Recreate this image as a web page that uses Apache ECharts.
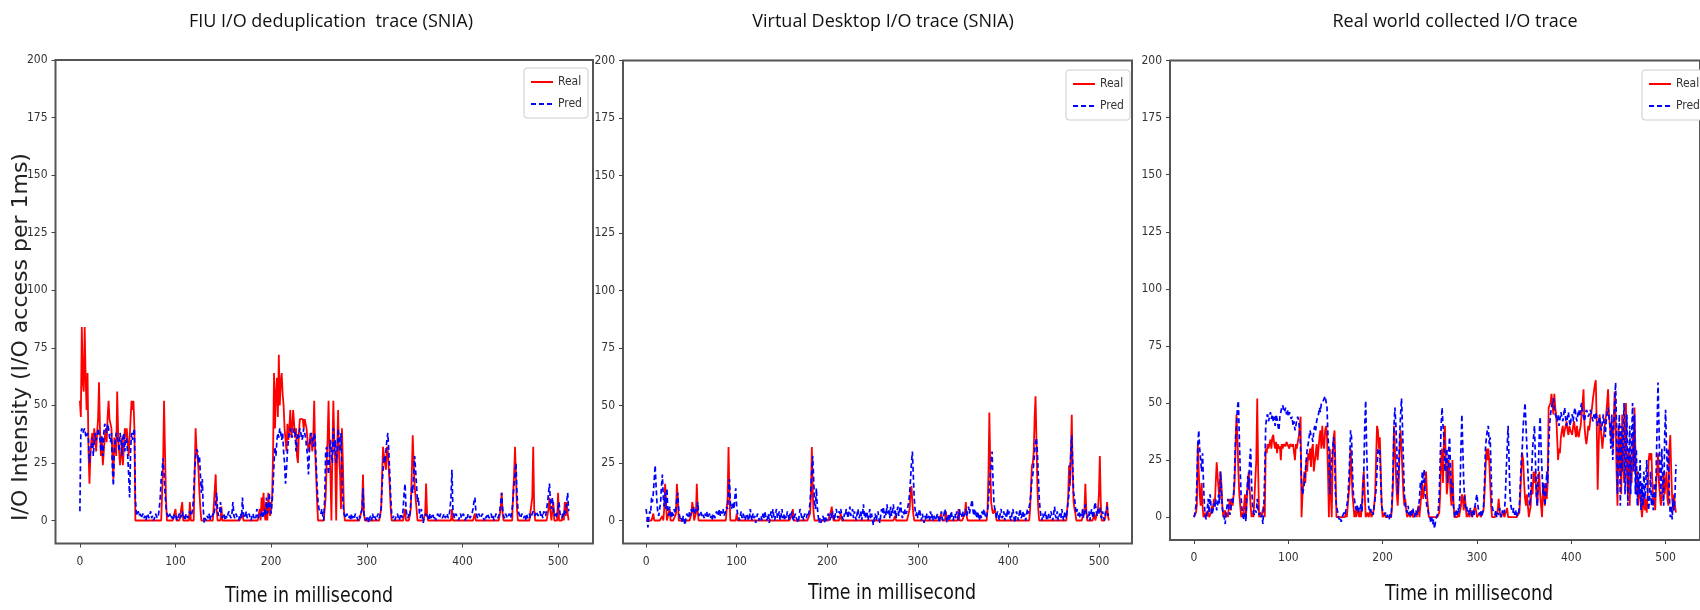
<!DOCTYPE html>
<html>
<head>
<meta charset="utf-8">
<script src="https://cdn.jsdelivr.net/npm/echarts@6/dist/echarts.min.js"></script>
<style>html,body{margin:0;padding:0;background:#fff}#c{width:1700px;height:610px}</style>
</head>
<body>
<div id="c"></div>
<script>
// ---- Data (one value per millisecond, 0..511) ----
const panelTitles = ['FIU I/O deduplication  trace (SNIA)', 'Virtual Desktop I/O trace (SNIA)', 'Real world collected I/O trace'];
const xTitle = 'Time in millisecond';
const yTitle = 'I/O Intensity (I/O access per 1ms)';
const xTicks = [0, 100, 200, 300, 400, 500];
const yTicks = [0, 25, 50, 75, 100, 125, 150, 175, 200];
const seriesNames = ['Real', 'Pred'];

const fiuReal = [
52,45,84,60,56,84,62,48,64,30,16,28,35,38,32,40,36,30,38,44,60,40,28,35,24,30,36,40,34,45,52,44,
44,40,28,18,36,32,28,56,38,30,24,28,36,24,32,40,36,40,34,28,36,44,52,48,52,40,0,0,0,0,0,0,
0,0,0,0,0,0,0,0,0,0,0,0,0,0,0,0,0,0,0,0,0,0,12,25,52,30,10,0,0,0,0,0,
0,0,0,0,5,0,0,0,0,0,0,8,0,0,0,0,0,0,0,8,0,0,0,0,20,40,30,28,22,12,5,0,
0,0,0,0,0,0,0,0,0,0,0,0,0,0,20,5,0,0,0,0,6,0,0,0,0,0,0,0,0,0,0,0,
0,0,0,0,0,0,0,0,0,0,3,0,0,0,0,0,0,0,0,0,0,0,0,0,0,0,0,0,5,0,10,4,
12,3,0,8,0,12,4,2,6,10,30,64,40,55,62,45,72,50,60,64,55,50,40,35,30,42,35,40,48,36,40,48,
48,36,40,28,25,38,44,44,44,44,40,44,44,40,35,30,32,38,35,30,36,52,30,20,8,0,0,0,0,0,0,0,
0,10,25,35,52,30,20,0,30,52,35,25,0,30,48,28,20,5,40,25,5,0,0,0,0,0,0,0,0,0,0,0,
0,0,0,0,0,0,0,5,20,3,0,0,0,0,0,0,0,0,0,0,0,0,0,0,0,0,0,5,20,32,28,25,
22,32,30,22,15,5,0,0,0,0,0,0,0,0,0,0,0,0,0,0,5,0,0,0,0,0,5,20,37,25,15,10,
5,0,0,0,0,0,0,0,0,3,16,3,0,0,0,0,0,0,0,0,0,0,0,0,0,0,0,0,0,0,0,0,
0,0,0,0,0,5,0,0,0,0,0,0,0,0,0,0,0,0,0,0,0,0,0,0,0,0,0,0,0,3,0,0,
0,0,0,0,0,0,0,0,0,0,0,0,0,0,0,0,0,0,0,0,0,0,0,0,5,12,3,0,0,0,0,0,
0,0,0,0,0,12,20,32,18,5,0,0,0,0,0,0,0,0,0,0,0,0,0,0,0,10,32,5,0,0,0,0,
0,0,0,0,0,0,0,0,0,0,5,10,4,0,0,8,0,0,0,0,12,0,0,0,0,3,0,8,2,8,3,0];

const fiuPred = [
4,38,40,38,38,40,37,36,38,35,25,30,32,36,28,34,38,35,36,40,38,35,30,37,28,38,42,40,38,42,40,36,
34,38,22,15,30,35,38,36,34,30,38,35,28,36,38,30,36,35,28,20,10,30,38,35,38,40,10,3,2,4,2,3,
1,2,3,1,2,0,2,3,1,2,4,1,2,0,1,3,2,1,2,5,10,18,22,27,20,12,6,3,2,1,3,1,
2,0,1,3,2,1,0,2,3,1,2,4,1,2,0,3,2,1,3,4,2,3,5,12,22,28,31,30,25,28,20,12,
18,5,-1,1,0,2,1,3,0,2,1,3,2,5,8,12,4,2,3,8,2,1,3,2,0,2,1,3,4,2,1,3,
8,2,1,3,2,1,0,2,3,1,10,3,1,2,4,1,2,3,1,0,2,3,1,2,1,5,2,1,3,2,4,1,
3,5,2,10,3,5,12,6,3,8,15,25,32,28,35,38,36,40,38,35,38,30,25,16,22,30,35,38,40,38,36,38,
40,38,30,35,38,36,40,38,35,36,40,38,36,32,28,20,30,36,38,35,32,38,36,25,15,8,5,4,3,5,2,0,
10,30,32,25,20,30,35,28,25,40,30,35,25,30,40,35,30,38,20,8,3,2,1,3,2,1,2,0,3,1,2,1,
3,2,1,0,2,1,3,5,14,3,1,0,2,1,-1,1,2,0,3,1,2,1,0,2,3,1,2,5,15,22,28,25,
30,35,38,30,20,10,3,1,2,0,1,2,3,1,0,2,3,1,5,12,16,5,2,1,3,2,8,15,12,20,28,22,
15,8,10,3,1,5,2,-1,1,2,3,1,2,0,3,1,2,3,1,2,0,1,3,2,1,3,2,1,2,3,1,2,
3,1,2,5,10,22,5,2,1,3,2,1,0,2,3,1,2,3,1,0,2,1,3,2,1,2,3,5,8,10,4,2,
1,3,2,1,2,3,1,0,2,1,3,2,1,2,3,1,2,0,1,3,2,1,2,4,8,12,5,2,1,3,2,1,
2,3,1,2,5,10,16,20,25,12,5,3,2,1,3,2,1,2,0,3,1,2,3,1,2,3,4,3,2,4,3,2,
3,4,2,3,1,4,3,2,5,8,12,16,8,5,10,6,2,3,1,4,5,8,3,2,1,3,2,5,3,8,12,4];

const vdReal = [
0,0,0,0,0,0,0,0,3,0,0,0,0,0,0,0,0,0,2,0,5,16,8,0,0,0,5,0,0,0,0,0,
0,3,16,10,0,0,0,0,0,0,0,0,0,0,0,0,0,0,3,8,5,0,0,3,16,4,0,0,0,0,0,0,
0,0,0,0,0,0,0,0,0,0,0,0,0,0,0,0,0,0,0,0,0,0,0,0,0,0,10,32,12,0,0,0,
0,0,0,0,3,0,0,0,0,0,0,0,0,0,0,0,0,0,0,0,0,0,0,0,0,0,0,0,0,0,0,0,
0,0,0,0,0,0,0,0,0,0,0,0,0,0,0,0,0,0,0,0,0,0,0,0,0,0,0,0,0,0,0,0,
0,2,5,0,0,0,0,0,0,0,0,0,0,0,0,0,0,0,0,0,0,3,10,32,12,3,0,0,0,0,0,0,
0,0,0,0,0,0,0,0,0,0,0,0,4,6,2,0,0,0,0,0,0,0,0,3,0,0,0,0,0,0,0,0,
0,0,0,0,0,0,0,0,0,0,0,0,0,0,0,0,0,0,0,0,0,0,0,0,0,0,0,0,0,0,0,0,
0,0,0,0,0,0,0,0,0,0,0,0,0,0,0,0,0,0,0,2,0,0,0,0,0,0,0,0,0,0,0,0,
0,0,0,5,12,15,8,3,0,0,0,0,0,0,0,0,0,0,0,0,0,0,0,0,0,0,0,0,0,0,0,0,
0,0,0,0,0,0,3,0,0,0,0,4,0,0,0,0,0,0,0,0,0,0,0,0,0,5,0,0,0,0,0,0,
3,8,2,0,0,0,0,0,0,0,0,0,0,0,0,0,0,0,0,0,0,0,0,0,0,5,20,47,25,8,5,3,
4,5,3,0,0,0,0,0,0,0,0,0,0,0,0,0,0,0,0,0,0,0,0,0,0,0,0,0,0,0,0,0,
0,0,0,0,0,0,0,0,5,15,24,25,30,45,54,35,15,5,0,0,0,0,0,0,0,0,0,0,0,0,0,0,
0,0,0,0,0,0,0,0,0,0,0,0,0,0,0,0,0,0,10,24,15,30,46,20,8,5,3,0,0,0,0,0,
0,0,0,0,5,16,5,0,0,0,0,0,0,0,0,3,0,0,0,5,12,28,8,0,0,0,0,0,3,8,2,0];

const vdPred = [
5,2,-3,1,4,3,10,8,12,18,24,15,8,3,2,5,8,15,20,10,6,12,5,14,4,2,6,3,1,4,2,5,
3,6,10,12,5,2,0,1,-1,2,0,-2,1,3,2,1,4,2,5,3,4,6,3,5,4,8,3,2,4,3,2,3,
1,3,2,4,1,2,3,1,2,0,3,2,1,3,4,2,3,5,2,4,3,5,2,3,4,6,5,12,18,8,5,6,
8,5,10,14,6,3,2,0,2,4,1,3,2,0,1,3,2,0,1,5,2,0,3,1,2,-1,1,3,2,0,1,2,
0,3,1,4,2,0,1,3,-1,2,4,1,5,2,0,3,5,1,2,4,0,2,5,1,3,0,2,1,4,2,0,3,
2,4,1,0,2,3,1,0,-1,2,5,3,1,2,0,3,2,1,3,2,4,8,15,22,28,18,8,5,14,6,2,-1,
1,-1,0,2,1,-1,2,0,1,3,2,0,3,1,4,2,0,3,5,2,1,4,3,5,2,1,0,3,2,5,3,1,
4,6,2,3,5,1,4,2,0,3,5,1,2,4,0,3,7,2,1,4,3,0,2,5,1,3,0,-2,1,3,0,2,
4,1,-1,2,5,3,6,1,4,2,7,3,5,1,6,2,4,7,3,5,1,4,6,2,5,8,3,1,4,2,5,3,
4,6,8,12,18,25,30,20,10,5,2,4,1,3,5,2,0,3,1,-1,2,0,3,1,2,0,4,1,3,0,2,1,
0,2,3,1,-1,2,4,1,0,3,5,2,-1,1,3,0,2,4,1,0,2,3,1,4,2,0,5,2,3,1,4,2,
3,5,2,4,6,3,5,7,9,4,2,5,3,1,4,2,0,3,1,4,2,5,3,1,2,4,8,15,20,25,30,18,
8,5,3,1,4,2,0,3,5,1,2,4,0,3,1,5,2,4,1,0,3,5,2,-1,1,4,2,0,3,5,1,2,
4,1,3,0,2,5,3,6,8,12,18,20,25,30,34,36,30,20,10,5,2,0,3,1,2,4,1,0,2,3,1,4,
2,0,3,6,2,1,4,0,2,3,1,5,2,0,3,4,1,5,8,12,20,30,37,25,12,10,6,3,5,2,4,1,
3,2,5,1,4,7,3,1,2,4,0,3,5,2,1,6,8,4,2,5,3,6,2,1,4,2,0,3,5,6,2,4];

const rwReal = [
0,0,2,5,32,20,10,5,15,5,0,0,2,0,0,3,0,0,2,5,3,8,5,15,24,18,12,8,20,15,5,0,
0,3,0,2,0,5,8,3,8,5,10,15,30,45,35,20,10,5,0,2,0,5,10,0,8,15,20,12,5,0,2,0,
0,0,25,52,20,0,2,0,0,0,5,0,30,28,32,30,32,34,30,35,36,32,30,33,28,32,30,31,25,32,30,32,
32,31,33,32,32,30,32,32,31,32,32,25,32,30,33,35,40,44,0,10,15,20,15,25,20,28,25,30,22,30,32,20,
20,28,32,25,30,35,38,30,40,32,30,38,40,35,20,0,30,10,0,25,35,38,20,0,0,0,0,0,0,0,0,0,
0,2,0,5,10,15,30,20,10,5,0,3,0,5,2,0,3,0,5,15,20,10,0,0,2,0,0,3,0,0,2,5,
10,25,40,38,30,35,20,5,0,0,2,0,0,0,0,0,0,0,5,15,40,30,20,10,5,15,30,38,30,20,10,5,
8,3,0,0,2,0,0,3,0,0,0,2,0,3,5,0,0,10,15,8,12,15,20,10,5,0,0,0,0,0,0,0,
0,0,0,0,2,10,25,30,15,35,40,25,10,15,25,20,10,5,25,8,0,0,0,0,2,0,0,5,10,8,3,10,
5,0,0,2,0,0,3,0,0,0,5,3,0,0,0,2,0,0,0,3,10,20,30,25,30,25,15,5,0,0,0,0,
0,0,3,8,3,0,0,0,2,0,0,0,4,0,0,0,0,0,0,0,0,0,0,0,0,2,10,20,28,25,15,8,
5,10,5,0,0,5,15,10,20,15,20,10,5,15,20,10,5,0,15,10,5,15,8,15,48,48,50,54,54,45,54,48,
45,35,25,30,28,35,38,40,35,38,40,42,38,36,40,38,38,36,40,42,38,35,40,36,35,38,40,45,50,56,40,35,
32,35,40,38,42,45,48,52,55,58,60,40,12,30,45,40,35,30,35,38,42,45,50,56,45,40,35,40,30,40,55,45,
20,5,40,20,35,10,45,25,15,40,50,20,10,30,5,25,15,35,20,48,30,10,20,5,15,10,5,0,5,10,3,8,
2,10,25,28,25,28,15,5,10,3,15,20,28,15,10,5,8,15,20,10,15,20,8,5,30,36,20,8,3,10,5,2];

const rwPred = [
0,2,5,15,32,38,30,25,20,28,15,5,0,-1,3,8,2,10,5,1,3,6,4,8,3,5,10,6,20,12,4,1,
0,-3,2,5,8,3,1,4,8,6,10,20,35,40,48,51,35,20,8,3,0,-1,2,-2,10,18,12,25,30,15,5,2,
1,3,2,8,3,1,2,0,1,-3,5,20,40,44,45,42,44,46,43,45,42,44,40,45,43,40,38,44,46,48,49,47,
46,48,45,47,44,46,45,43,44,40,42,38,40,43,44,42,38,30,15,10,12,15,20,25,30,32,35,38,36,35,33,38,
40,38,42,44,45,48,46,50,50,51,52,53,53,48,35,30,10,20,25,30,35,30,10,5,3,0,-1,0,-2,0,1,2,
1,3,5,8,15,25,38,35,20,10,8,5,3,5,2,4,3,6,2,10,20,40,51,30,15,5,3,4,2,3,1,5,
8,12,20,30,28,30,15,5,3,2,1,2,0,1,0,-1,2,0,8,20,40,48,40,30,10,20,35,45,52,40,25,10,
5,3,2,5,1,3,0,2,4,1,0,3,2,1,4,8,15,12,20,15,21,10,8,4,3,1,0,-2,0,-3,-1,-5,
-2,0,1,3,10,25,40,48,40,35,20,25,30,15,30,35,20,10,15,5,2,0,3,1,4,2,10,30,45,30,15,8,
4,5,2,3,1,4,2,0,3,1,5,8,10,5,2,1,3,0,2,5,15,30,35,38,40,32,35,20,5,3,2,1,
3,0,2,1,4,2,0,3,1,2,8,20,30,40,25,10,5,3,2,4,1,3,0,2,1,5,15,25,30,40,45,50,
40,30,20,10,5,10,20,30,35,40,25,10,5,20,35,44,30,20,10,15,5,10,20,15,30,40,45,48,50,52,48,45,
44,42,45,40,43,46,44,42,45,48,43,40,44,46,42,40,44,45,42,46,48,44,42,45,47,44,48,50,46,44,42,45,
47,46,44,45,47,46,44,42,45,43,46,44,40,42,44,40,38,42,45,40,35,42,45,48,44,40,30,45,25,40,50,59,
40,10,30,45,5,40,20,35,50,10,30,45,5,25,40,10,35,50,20,45,10,30,5,20,10,25,3,15,5,20,8,15,
25,10,3,8,20,5,10,3,15,8,20,40,59,40,20,10,30,15,5,35,47,30,20,30,10,0,5,-1,8,3,10,23];

// ---- Chart ----
const panels = [
  {real: fiuReal, pred: fiuPred},
  {real: vdReal, pred: vdPred},
  {real: rwReal, pred: rwPred}
];
const gridPos = [
  {left: 55.5, top: 60, width: 537.5, height: 483.5},
  {left: 623, top: 60.5, width: 509, height: 483},
  {left: 1170, top: 60.5, width: 537, height: 479.5}
];
const legendPos = [{left: 524, top: 68}, {left: 1066, top: 70}, {left: 1642, top: 70}];
const titlePos = [[331, 22], [883, 22], [1455, 22]];
const xTitlePos = [[309, 596], [892, 593], [1469, 594]];

const narrow = '"Liberation Sans Narrow", "DejaVu Sans Condensed", sans-serif';
const toPts = arr => arr.map((v, i) => [i, v]);

const option = {
  animation: false,
  backgroundColor: '#fff',
  grid: gridPos.map(g => Object.assign({show: true, borderColor: '#555', borderWidth: 2, backgroundColor: 'transparent', containLabel: false}, g)),
  xAxis: gridPos.map((g, i) => ({
    type: 'value', gridIndex: i, min: -25.5, max: 536.5,
    splitLine: {show: false},
    axisLine: {show: false, onZero: false},
    axisTick: {show: true, length: 4, lineStyle: {color: '#444'}, customValues: xTicks},
    axisLabel: {color: '#333', fontFamily: narrow, fontSize: 12, margin: 12, customValues: xTicks}
  })),
  yAxis: gridPos.map((g, i) => ({
    type: 'value', gridIndex: i, min: -10, max: 200,
    splitLine: {show: false},
    axisLine: {show: false, onZero: false},
    axisTick: {show: true, length: 4, lineStyle: {color: '#444'}, customValues: yTicks},
    axisLabel: {color: '#333', fontFamily: narrow, fontSize: 12, margin: 8, customValues: yTicks}
  })),
  legend: legendPos.map(p => ({
    left: p.left, top: p.top, orient: 'vertical', data: seriesNames,
    itemWidth: 22, itemHeight: 12, itemGap: 10, padding: [8, 6, 8, 6],
    borderColor: '#ccc', borderWidth: 1, borderRadius: 3, backgroundColor: '#fff',
    itemStyle: {opacity: 0},
    textStyle: {fontFamily: narrow, fontSize: 12, color: '#333'},
    selectedMode: false
  })),
  series: [],
  graphic: []
};

panels.forEach((p, i) => {
  option.series.push({
    name: 'Real', type: 'line', xAxisIndex: i, yAxisIndex: i, data: toPts(p.real),
    symbol: 'none', showSymbol: false, color: '#ff0000',
    lineStyle: {color: '#ff0000', width: 1.8}, z: 2
  });
  option.series.push({
    name: 'Pred', type: 'line', xAxisIndex: i, yAxisIndex: i, data: toPts(p.pred),
    symbol: 'none', showSymbol: false, color: '#0000ff',
    lineStyle: {color: '#0000ff', width: 1.7, type: [5, 3]}, z: 3
  });
  option.graphic.push({
    type: 'text', x: titlePos[i][0], y: titlePos[i][1],
    style: {text: panelTitles[i], font: '18px "Open Sans", sans-serif', fill: '#111', align: 'center', verticalAlign: 'middle'}
  });
  option.graphic.push({
    type: 'text', x: xTitlePos[i][0], y: xTitlePos[i][1], scaleX: 0.88,
    style: {text: xTitle, font: '22px ' + narrow, fill: '#111', align: 'center', verticalAlign: 'middle'}
  });
});
option.graphic.push({
  type: 'text', x: 21, y: 337, rotation: Math.PI / 2,
  style: {text: yTitle, font: '22px "DejaVu Sans", sans-serif', fill: '#222', align: 'center', verticalAlign: 'middle'}
});

const chart = echarts.init(document.getElementById('c'), null, {renderer: 'canvas'});
chart.setOption(option);
</script>
</body>
</html>
